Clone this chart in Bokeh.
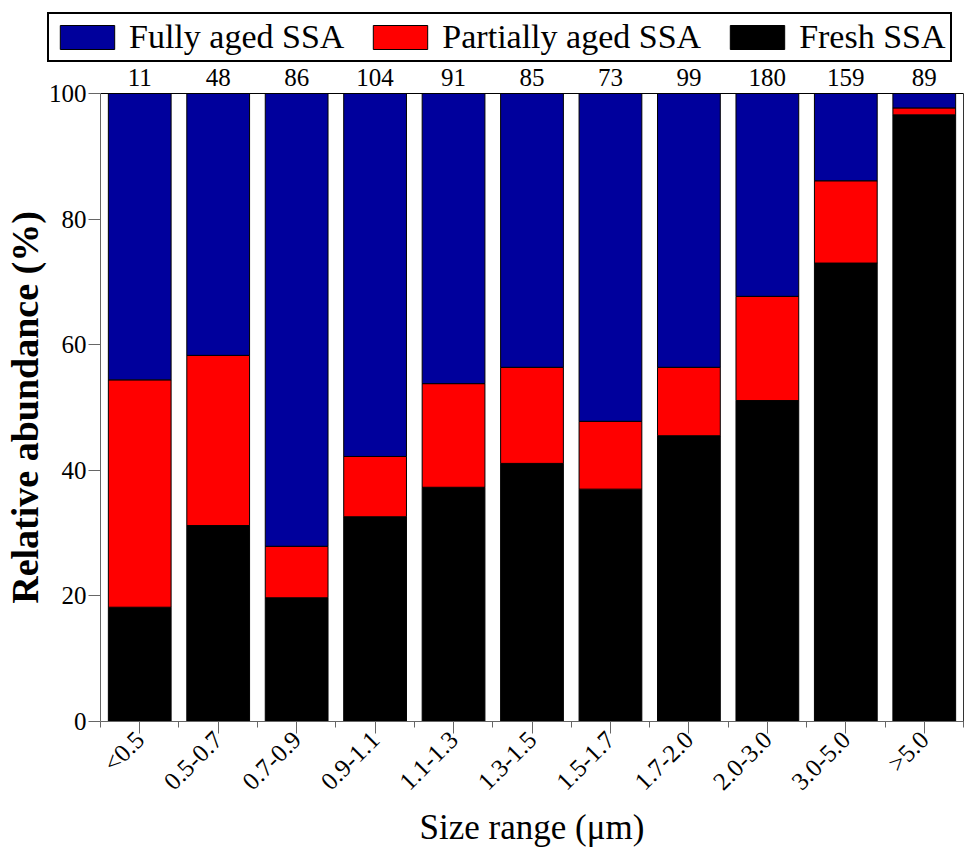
import math
from bokeh.plotting import figure
from bokeh.layouts import column, row
from bokeh.models import (ColumnDataSource, FixedTicker, Legend, LegendItem,
                          LinearAxis, Range1d)
from bokeh.embed import file_html
from bokeh.resources import INLINE

# data
size_ranges = ['<0.5', '0.5-0.7', '0.7-0.9', '0.9-1.1', '1.1-1.3', '1.3-1.5',
               '1.5-1.7', '1.7-2.0', '2.0-3.0', '3.0-5.0', '>5.0']
counts = [11, 48, 86, 104, 91, 85, 73, 99, 180, 159, 89]
fresh = [18.2, 31.2, 19.7, 32.6, 37.3, 41.1, 37.0, 45.5, 51.1, 73.0, 96.6]
partially_aged = [36.2, 27.1, 8.2, 9.6, 16.5, 15.3, 10.8, 10.9, 16.6, 13.1, 1.1]
fully_aged = [round(100 - f - p, 1) for f, p in zip(fresh, partially_aged)]

series = ['fresh', 'partial', 'fully']
series_labels = ['Fresh SSA', 'Partially aged SSA', 'Fully aged SSA']
colors = ['black', '#ff0000', '#00009c']

FONT = "Liberation Serif"
AXIS_GRAY = "#666666"

centers = [i + 0.5 for i in range(len(size_ranges))]
bounds = list(range(len(size_ranges) + 1))

source = ColumnDataSource(dict(x=centers, fresh=fresh,
                               partial=partially_aged, fully=fully_aged))

p = figure(
    width=964, height=785,
    x_range=Range1d(0, len(size_ranges)), y_range=Range1d(0, 100),
    output_backend="svg", toolbar_location=None, tools="",
    min_border_left=99, min_border_top=29, min_border_right=1,
    min_border_bottom=118,
)
p.outline_line_color = None
p.xgrid.grid_line_color = None
p.ygrid.grid_line_color = None

bars = p.vbar_stack(series, x='x', width=0.8, source=source, color=colors,
                    line_color='black', line_width=1)

# x axis: ticks at centres, minor ticks at category borders
p.xaxis.ticker = FixedTicker(ticks=centers, minor_ticks=bounds)
p.xaxis.major_label_overrides = {c: s for c, s in zip(centers, size_ranges)}
p.xaxis.major_label_orientation = math.pi / 4
p.xaxis.axis_label = "Size range (μm)"

p.yaxis.ticker = FixedTicker(ticks=[0, 20, 40, 60, 80, 100])
p.yaxis.axis_label = "Relative abundance (%)"

for ax in (p.xaxis, p.yaxis):
    ax.axis_line_color = AXIS_GRAY
    ax.major_tick_line_color = AXIS_GRAY
    ax.major_tick_in = 0
    ax.major_tick_out = 12
    ax.minor_tick_in = 0
    ax.minor_tick_out = 6
    ax.major_label_text_font = FONT
    ax.major_label_text_color = "black"
    ax.axis_label_text_font = FONT
    ax.axis_label_text_color = "black"
    ax.axis_label_standoff = 0
    ax.major_label_standoff = 2
p.xaxis.minor_tick_line_color = AXIS_GRAY
p.yaxis.minor_tick_line_color = None
p.xaxis.major_label_text_font_size = "25px"
p.yaxis.major_label_text_font_size = "25px"
p.xaxis.axis_label_text_font_style = "normal"
p.xaxis.axis_label_text_font_size = "35px"
p.yaxis.axis_label_text_font_style = "bold"
p.yaxis.axis_label_text_font_size = "38px"

# counts of particles above each bar, top border
top = LinearAxis(ticker=FixedTicker(ticks=centers, minor_ticks=[]),
                 major_label_overrides={c: str(n) for c, n in zip(centers, counts)})
top.axis_line_color = "black"
top.major_tick_line_color = None
top.minor_tick_line_color = None
top.major_label_text_font = FONT
top.major_label_text_font_size = "25px"
top.major_label_text_color = "black"
top.major_label_standoff = 2
p.add_layout(top, "above")

right = LinearAxis(ticker=FixedTicker(ticks=[]), major_label_text_font_size="0px")
right.axis_line_color = "#333333"
right.major_tick_line_color = None
right.minor_tick_line_color = None
p.add_layout(right, "right")

# legend strip above the chart (own figure, so the box is not clipped);
# the same bars are drawn there outside the visible y range, only for the swatches
leg_fig = figure(width=964, height=64, output_backend="svg",
                 toolbar_location=None, tools="", min_border=0,
                 x_axis_location=None, y_axis_location=None,
                 x_range=Range1d(0, len(size_ranges)), y_range=Range1d(200, 300))
leg_fig.grid.grid_line_color = None
leg_fig.outline_line_color = None
swatches = leg_fig.vbar_stack(series, x='x', width=0.8, source=source,
                              color=colors, line_color='black', line_width=1)

legend = Legend(items=[
    LegendItem(label=lab, renderers=[r])
    for r, lab in reversed(list(zip(swatches, series_labels)))
], orientation="horizontal", location=(47, 2))
legend.label_text_font = FONT
legend.label_text_font_size = "34px"
legend.label_text_color = "black"
legend.glyph_width = 68
legend.glyph_height = 30
legend.spacing = 22
legend.padding = 4
legend.margin = 0
legend.label_standoff = 8
legend.border_line_color = "black"
legend.border_line_width = 2
legend.border_line_alpha = 1
legend.background_fill_alpha = 1
leg_fig.add_layout(legend, "center")

layout = column(row(leg_fig), p)
open("out.html", "w").write(file_html(layout, INLINE))
